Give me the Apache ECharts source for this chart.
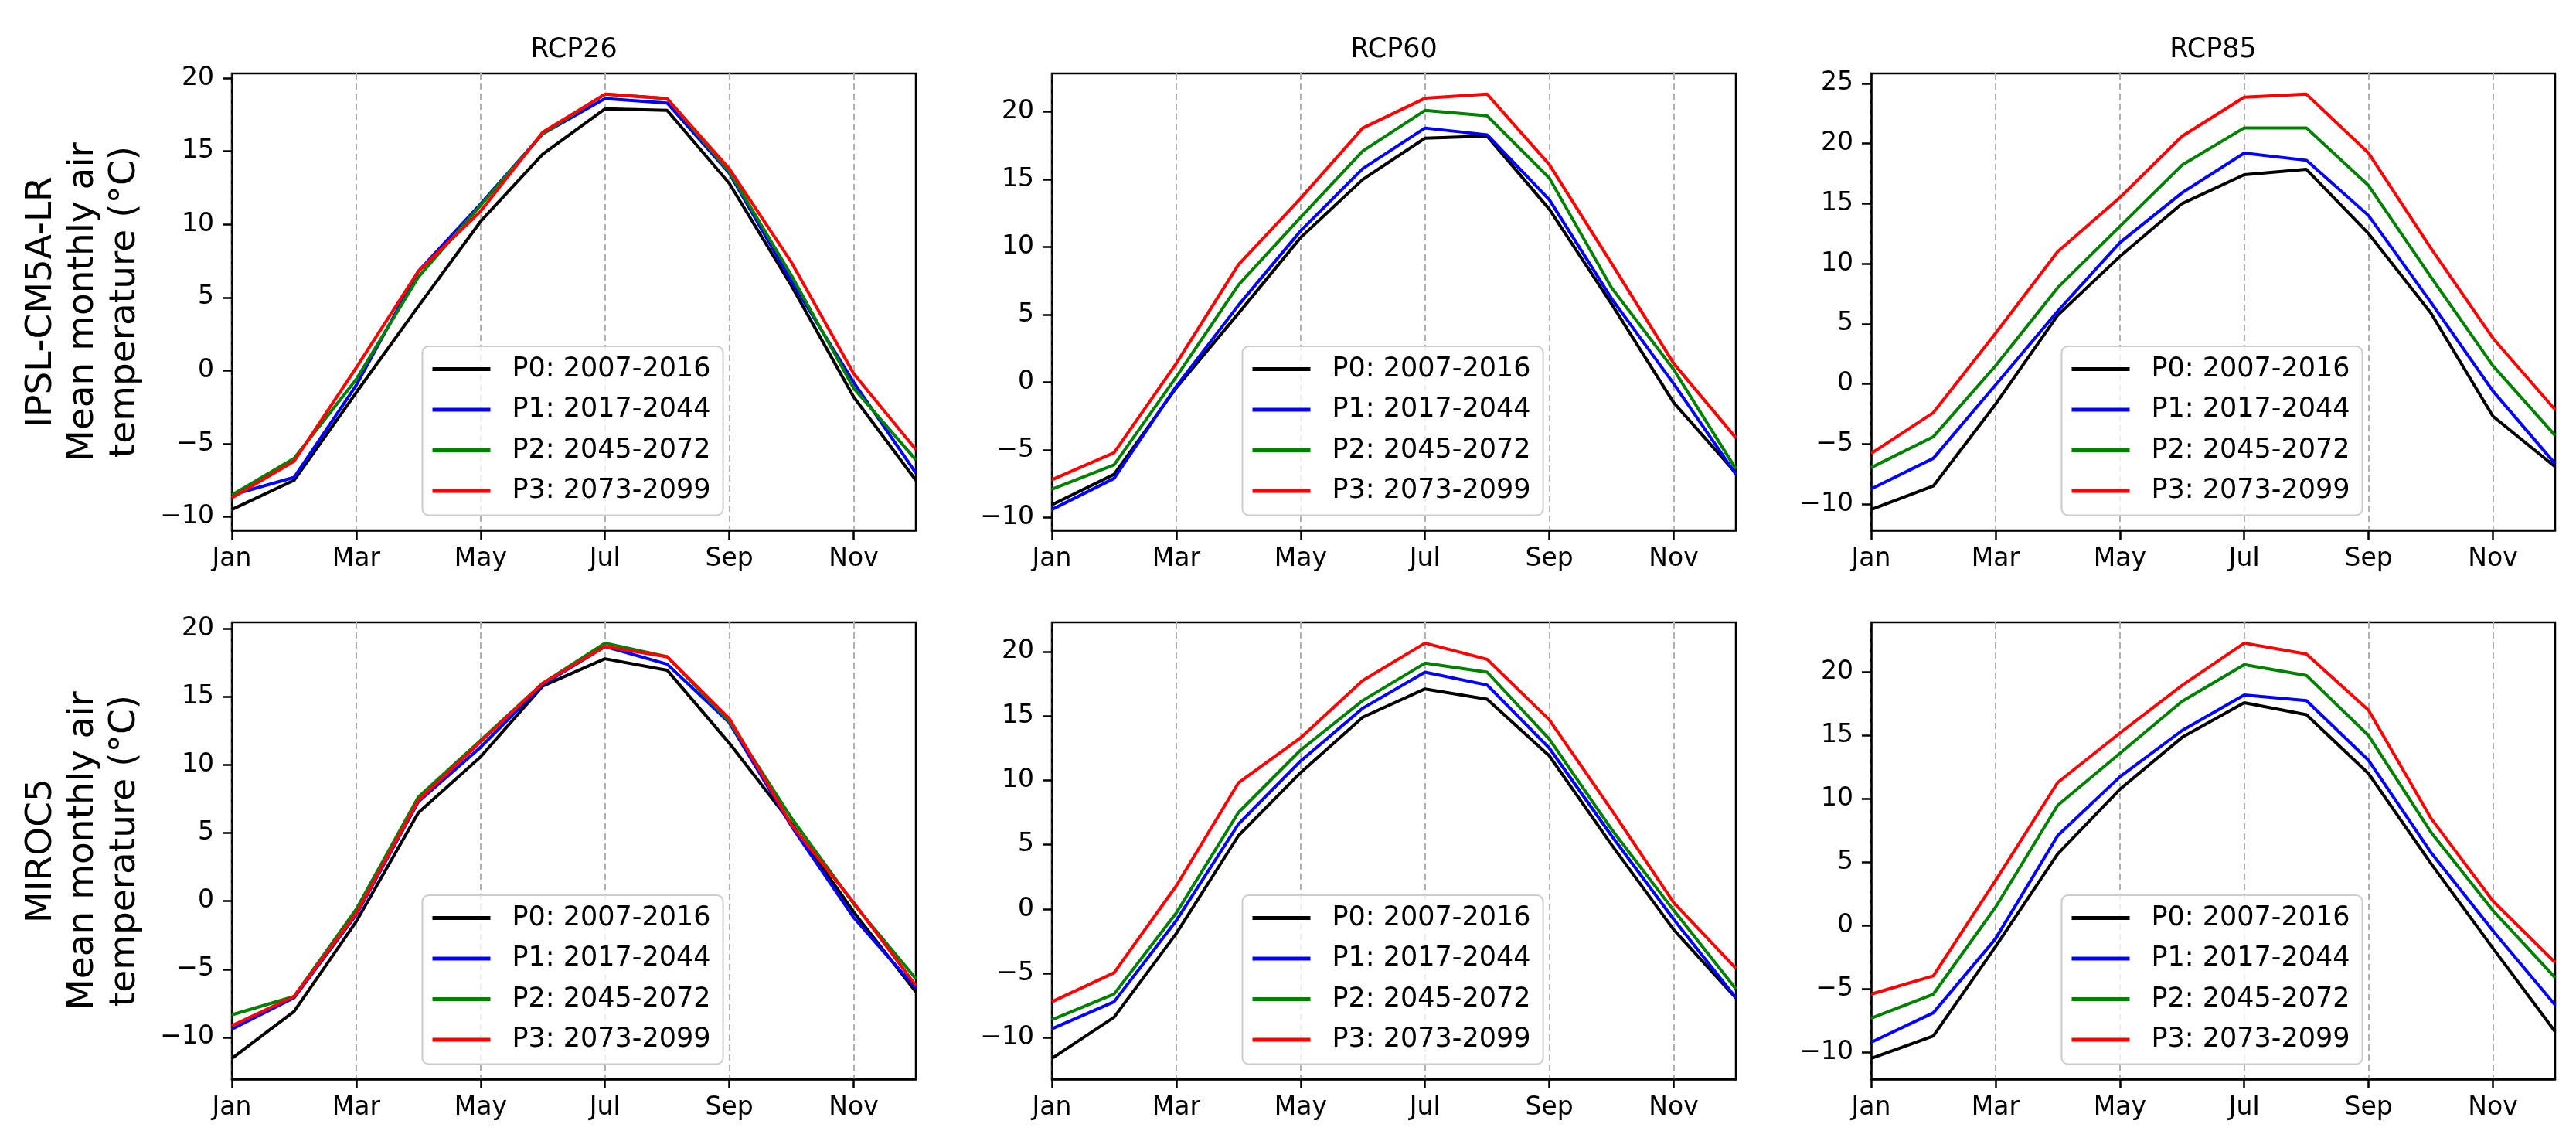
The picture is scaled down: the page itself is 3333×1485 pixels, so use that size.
<!DOCTYPE html>
<html>
<head>
<meta charset="utf-8">
<title>Mean monthly air temperature</title>
<script src="https://cdn.jsdelivr.net/npm/echarts/dist/echarts.min.js"></script>
<style>
  html, body { margin: 0; padding: 0; background: #ffffff; }
  #chart { width: 3333px; height: 1485px; }
</style>
</head>
<body>
<div id="chart"></div>
<script>
// categories
const months = ['Jan', 'Feb', 'Mar', 'Apr', 'May', 'Jun', 'Jul', 'Aug', 'Sep', 'Oct', 'Nov', 'Dec'];
const periods = ['P0: 2007-2016', 'P1: 2017-2044', 'P2: 2045-2072', 'P3: 2073-2099'];
const scenarios = ['RCP26', 'RCP60', 'RCP85'];
const models = ['IPSL-CM5A-LR', 'MIROC5'];

// IPSL-CM5A-LR
const ipsl26P0 = [-9.5, -7.5, -1.5, 4.4, 10.2, 14.8, 17.9, 17.8, 12.8, 5.8, -1.8, -7.5];
const ipsl26P1 = [-8.5, -7.3, -1.0, 6.8, 11.4, 16.2, 18.6, 18.3, 13.5, 6.1, -0.8, -7.0];
const ipsl26P2 = [-8.5, -6.0, -0.6, 6.4, 11.3, 16.2, 18.9, 18.6, 13.6, 6.5, -1.2, -6.1];
const ipsl26P3 = [-8.7, -6.2, 0.2, 6.8, 10.9, 16.3, 18.9, 18.6, 13.8, 7.4, -0.2, -5.4];

const ipsl60P0 = [-9.05, -6.8, -0.4, 5.1, 10.7, 15.0, 18.05, 18.2, 12.8, 5.8, -1.5, -6.7];
const ipsl60P1 = [-9.4, -7.1, -0.3, 5.7, 11.2, 15.8, 18.8, 18.3, 13.5, 6.2, -0.1, -6.8];
const ipsl60P2 = [-7.9, -6.1, 0.4, 7.2, 12.2, 17.1, 20.1, 19.7, 15.1, 7.0, 0.95, -6.4];
const ipsl60P3 = [-7.2, -5.2, 1.4, 8.7, 13.6, 18.8, 21.0, 21.3, 16.1, 8.8, 1.4, -4.1];

const ipsl85P0 = [-10.46, -8.5, -1.7, 5.7, 10.6, 15.0, 17.4, 17.85, 12.5, 5.9, -2.7, -6.9];
const ipsl85P1 = [-8.75, -6.2, -0.1, 6.05, 11.75, 15.9, 19.2, 18.6, 14.0, 6.8, -0.6, -6.65];
const ipsl85P2 = [-6.97, -4.4, 1.5, 8.0, 13.1, 18.2, 21.3, 21.3, 16.5, 8.9, 1.5, -4.3];
const ipsl85P3 = [-5.8, -2.4, 4.2, 11.0, 15.5, 20.6, 23.85, 24.1, 19.2, 11.3, 3.8, -2.15];

// MIROC5
const miroc26P0 = [-11.55, -8.1, -1.5, 6.5, 10.6, 15.8, 17.8, 16.96, 11.6, 5.7, -0.8, -6.66];
const miroc26P1 = [-9.4, -7.1, -1.0, 7.3, 11.3, 15.9, 18.7, 17.4, 13.1, 5.5, -1.2, -6.4];
const miroc26P2 = [-8.35, -7.0, -0.6, 7.65, 11.8, 16.0, 18.95, 17.95, 13.2, 6.1, -0.2, -5.7];
const miroc26P3 = [-9.15, -7.0, -0.9, 7.4, 11.7, 16.0, 18.7, 17.95, 13.4, 5.6, -0.1, -6.2];

const miroc60P0 = [-11.6, -8.4, -1.9, 5.7, 10.6, 14.9, 17.1, 16.3, 11.9, 5.0, -1.6, -6.9];
const miroc60P1 = [-9.3, -7.2, -0.9, 6.6, 11.5, 15.6, 18.4, 17.4, 12.5, 5.7, -0.8, -6.9];
const miroc60P2 = [-8.6, -6.6, -0.3, 7.5, 12.35, 16.2, 19.1, 18.4, 13.2, 6.2, -0.1, -6.2];
const miroc60P3 = [-7.2, -4.95, 1.8, 9.8, 13.3, 17.75, 20.66, 19.4, 14.7, 7.7, 0.5, -4.6];

const miroc85P0 = [-10.47, -8.7, -1.65, 5.67, 10.76, 14.86, 17.6, 16.65, 12.0, 4.93, -1.78, -8.36];
const miroc85P1 = [-9.2, -6.87, -1.03, 7.1, 11.75, 15.4, 18.2, 17.76, 13.05, 5.8, -0.4, -6.25];
const miroc85P2 = [-7.3, -5.4, 1.45, 9.5, 13.6, 17.7, 20.6, 19.75, 15.0, 7.4, 1.2, -4.1];
const miroc85P3 = [-5.4, -3.96, 3.56, 11.3, 15.2, 18.96, 22.3, 21.44, 17.0, 8.5, 1.95, -2.9];

// panels, row by row
const panels = [
  [ipsl26P0, ipsl26P1, ipsl26P2, ipsl26P3],
  [ipsl60P0, ipsl60P1, ipsl60P2, ipsl60P3],
  [ipsl85P0, ipsl85P1, ipsl85P2, ipsl85P3],
  [miroc26P0, miroc26P1, miroc26P2, miroc26P3],
  [miroc60P0, miroc60P1, miroc60P2, miroc60P3],
  [miroc85P0, miroc85P1, miroc85P2, miroc85P3]
];

const colors = ['#000000', '#0000ff', '#008000', '#ff0000'];
const FONT = 'DejaVu Sans';

// layout (px)
const colLeft = [300, 1361, 2421];
const rowTop = [95, 805];
const plotW = 885;
const plotH = 591;

// matplotlib-like autoscale: 5% margin on each side
function yRange(lines) {
  let lo = Infinity, hi = -Infinity;
  lines.forEach(l => l.forEach(v => { lo = Math.min(lo, v); hi = Math.max(hi, v); }));
  const m = (hi - lo) * 0.05;
  return [lo - m, hi + m];
}
function yTicks(lo, hi) {
  const t = [];
  for (let v = Math.ceil(lo / 5) * 5; v <= hi; v += 5) t.push(v);
  return t;
}
const minus = v => String(v).replace('-', '\u2212');

const grid = [], xAxis = [], yAxis = [], series = [], legend = [], graphic = [];

panels.forEach((lines, i) => {
  const row = Math.floor(i / 3), col = i % 3;
  const left = colLeft[col], top = rowTop[row];
  const [lo, hi] = yRange(lines);
  const ticks = yTicks(lo, hi);

  grid.push({
    left: left, top: top, width: plotW, height: plotH,
    show: true, borderColor: '#000', borderWidth: 2.5,
    outerBoundsMode: 'none'
  });
  xAxis.push({
    type: 'category', gridIndex: i, data: months, boundaryGap: false,
    axisLine: { onZero: false, lineStyle: { color: '#000', width: 2.5 } },
    axisTick: { show: true, interval: 1, length: 12, lineStyle: { color: '#000', width: 2.5 } },
    axisLabel: { interval: 1, margin: 21, fontSize: 33, fontFamily: FONT, color: '#000' },
    splitLine: { show: true, interval: 1, lineStyle: { color: '#b0b0b0', width: 2, type: [8, 5] } }
  });
  yAxis.push({
    type: 'value', gridIndex: i, min: lo, max: hi,
    splitLine: { show: false },
    axisLine: { show: true, onZero: false, lineStyle: { color: '#000', width: 2.5 } },
    axisTick: { show: true, length: 12, lineStyle: { color: '#000', width: 2.5 }, customValues: ticks },
    axisLabel: { margin: 23, fontSize: 33, fontFamily: FONT, color: '#000', customValues: ticks, formatter: minus }
  });
  lines.forEach((data, k) => {
    series.push({
      type: 'line', name: periods[k], xAxisIndex: i, yAxisIndex: i,
      data: data, symbol: 'none', z: 2 + k,
      lineStyle: { color: colors[k], width: 4 },
      itemStyle: { color: colors[k] }
    });
  });
  legend.push({
    data: periods, orient: 'vertical', selectedMode: false,
    left: left + plotW / 2 - 196, top: top + 353,
    icon: 'rect', itemWidth: 75, itemHeight: 5, itemGap: 17.5,
    padding: [12, 16, 14, 13],
    backgroundColor: 'rgba(255,255,255,0.8)',
    borderColor: '#cccccc', borderWidth: 2, borderRadius: 8,
    textStyle: { fontSize: 35, fontFamily: FONT, color: '#000', padding: [0, 0, 0, 23] }
  });
});

// column titles
scenarios.forEach((s, c) => {
  graphic.push({
    type: 'text', x: colLeft[c] + plotW / 2, y: 65,
    style: { text: s, fontSize: 35, fontFamily: FONT, fill: '#000',
      align: 'center', verticalAlign: 'middle', textAlign: 'center', textVerticalAlign: 'middle' }
  });
});

// row labels
models.forEach((m, r) => {
  graphic.push({
    type: 'text', x: 108, y: rowTop[r] + plotH / 2, rotation: Math.PI / 2,
    style: { text: m + '\nMean monthly air\ntemperature (\u00b0C)', fontSize: 47, fontFamily: FONT,
      fill: '#000', lineHeight: 54,
      align: 'center', verticalAlign: 'middle', textAlign: 'center', textVerticalAlign: 'middle' }
  });
});

const chart = echarts.init(document.getElementById('chart'), null, { renderer: 'canvas' });
chart.setOption({
  backgroundColor: '#ffffff',
  animation: false,
  grid: grid,
  xAxis: xAxis,
  yAxis: yAxis,
  legend: legend,
  series: series,
  graphic: graphic
});
</script>
</body>
</html>
